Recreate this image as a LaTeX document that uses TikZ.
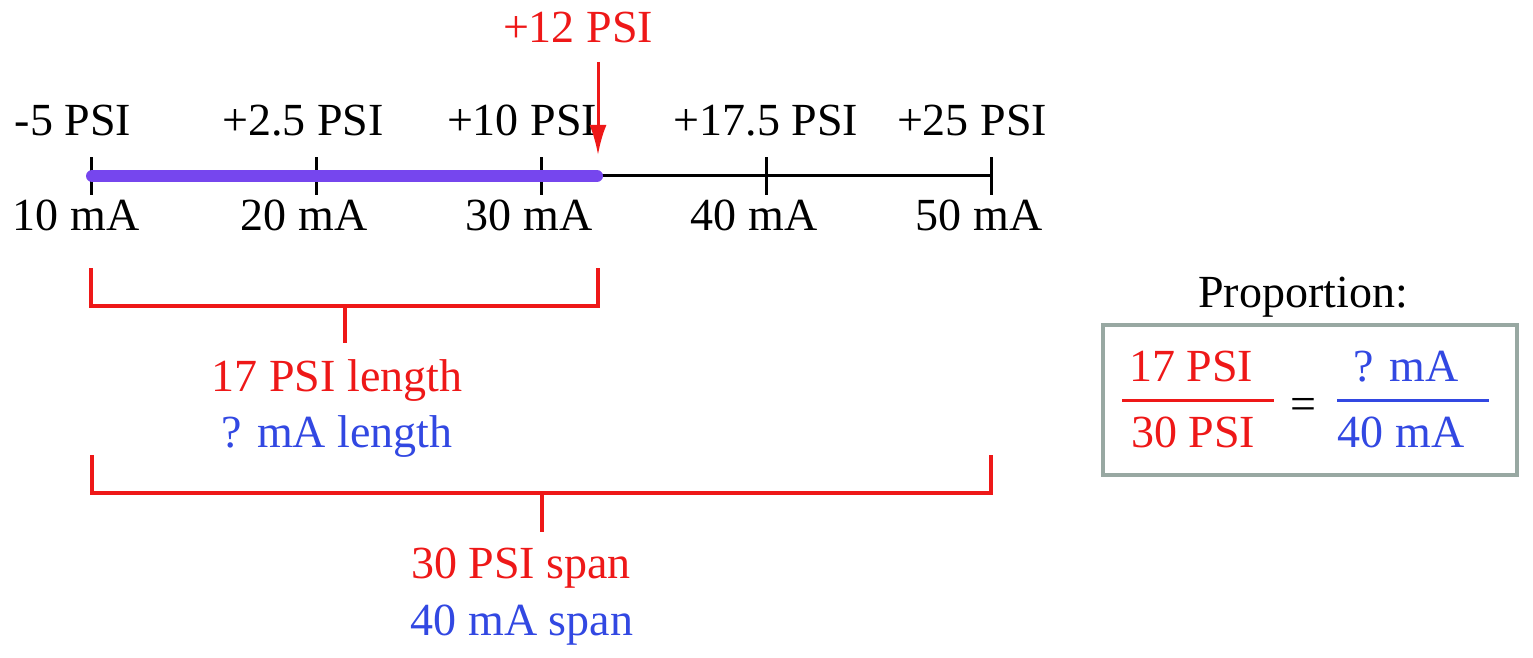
\documentclass[tikz,border=0pt]{standalone}
\usepackage{fontspec}
\setmainfont{Liberation Serif}
\usetikzlibrary{arrows.meta}
\definecolor{pred}{RGB}{238,24,24}
\definecolor{pblue}{RGB}{50,72,226}
\definecolor{ppurple}{RGB}{118,70,238}
\definecolor{pgray}{RGB}{152,168,162}
\begin{document}
\begin{tikzpicture}[x=0.5pt,y=-0.5pt,
  lbl/.style={font=\fontsize{23}{27}\selectfont, inner sep=0pt, anchor=base},
  redlbl/.style={lbl, text=pred},
  bluelbl/.style={lbl, text=pblue},
  tickmark/.style={line width=1.5pt, black},
  axisline/.style={line width=1.5pt, black},
  bar/.style={line width=6pt, ppurple, line cap=round},
  bracketline/.style={line width=1.6pt, pred},
  pointer/.style={line width=1.5pt, pred, -{Latex[length=15pt,width=8.5pt]}},
  fracbar/.style={line width=1.5pt},
  propbox/.style={draw=pgray, line width=1.6pt}
]
\useasboundingbox (0,0) rectangle (1533,658);

% axis coordinates
\coordinate (t0) at (91,176);
\coordinate (t1) at (316,176);
\coordinate (t2) at (541,176);
\coordinate (t3) at (766,176);
\coordinate (t4) at (991,176);
\coordinate (bs) at (92,176);
\coordinate (be) at (597,176);

\draw[axisline] (be) -- (t4);
\foreach \t in {t0,t1,t2,t3,t4}
  \draw[tickmark] ([yshift=-9.5pt]\t) -- ([yshift=9.5pt]\t);
\draw[bar] (bs) -- (be);

% top labels
\node[lbl] (p0) at (73,136) {-5 PSI};
\node[lbl] (p1) at (303,136) {+2.5 PSI};
\node[lbl] (p2) at (522,136) {+10 PSI};
\node[lbl] (p3) at (766,136) {+17.5 PSI};
\node[lbl] (p4) at (972,136) {+25 PSI};
% bottom labels
\node[lbl] (m0) at (76,231) {10 mA};
\node[lbl] (m1) at (304,231) {20 mA};
\node[lbl] (m2) at (529,231) {30 mA};
\node[lbl] (m3) at (754,231) {40 mA};
\node[lbl] (m4) at (979,231) {50 mA};

% +12 PSI pointer
\node[redlbl] (p12) at (578,43) {+12 PSI};
\coordinate (arrtop) at (598,62);
\coordinate (arrtip) at (598,155);
\draw[pointer] (arrtop) -- (arrtip);

% small bracket
\coordinate (sb1) at (91,268);
\coordinate (sb2) at (598,268);
\coordinate (sbm) at (345,306);
\coordinate (sbs) at (345,343);
\draw[bracketline] (sb1) -- (sb1 |- sbm) -- (sb2 |- sbm) -- (sb2);
\draw[bracketline] (sbm) -- (sbs);
\node[redlbl] (l17) at (337,391) {17 PSI length};
\node[bluelbl] (lq) at (337,447) {? mA length};

% big bracket
\coordinate (bb1) at (92,455);
\coordinate (bb2) at (991,455);
\coordinate (bbm) at (542,493);
\coordinate (bbs) at (542,532);
\draw[bracketline] (bb1) -- (bb1 |- bbm) -- (bb2 |- bbm) -- (bb2);
\draw[bracketline] (bbm) -- (bbs);
\node[redlbl] (l30) at (521,578) {30 PSI span};
\node[bluelbl] (l40) at (522,635) {40 mA span};

% proportion
\node[lbl] (prop) at (1303,307) {Proportion:};
\draw[propbox] (1103,325) rectangle (1517,475);
\node[redlbl] (n1) at (1191,381) {17 PSI};
\node[redlbl] (d1) at (1193,447) {30 PSI};
\draw[fracbar, pred] (1122,400) -- (1274,400);
\node[lbl] (eq) at (1303,419) {=};
\node[bluelbl] (n2) at (1406,381) {? mA};
\node[bluelbl] (d2) at (1401,447) {40 mA};
\draw[fracbar, pblue] (1337,400) -- (1489,400);
\end{tikzpicture}
\end{document}
